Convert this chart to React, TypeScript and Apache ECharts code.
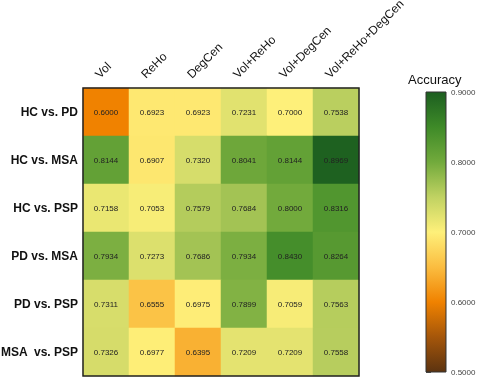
import React, { useEffect, useRef } from "react";
import * as echarts from "echarts";

const methods = ["Vol", "ReHo", "DegCen", "Vol+ReHo", "Vol+DegCen", "Vol+ReHo+DegCen"];
const comparisons = ["HC vs. PD", "HC vs. MSA", "HC vs. PSP", "PD vs. MSA", "PD vs. PSP", "MSA  vs. PSP"];
const hcVsPd = [0.6, 0.6923, 0.6923, 0.7231, 0.7, 0.7538];
const hcVsMsa = [0.8144, 0.6907, 0.732, 0.8041, 0.8144, 0.8969];
const hcVsPsp = [0.7158, 0.7053, 0.7579, 0.7684, 0.8, 0.8316];
const pdVsMsa = [0.7934, 0.7273, 0.7686, 0.7934, 0.843, 0.8264];
const pdVsPsp = [0.7311, 0.6555, 0.6975, 0.7899, 0.7059, 0.7563];
const msaVsPsp = [0.7326, 0.6977, 0.6395, 0.7209, 0.7209, 0.7558];
const rows = [hcVsPd, hcVsMsa, hcVsPsp, pdVsMsa, pdVsPsp, msaVsPsp];
const scaleMin = 0.5;
const scaleMax = 0.9;
const scaleStep = 0.1;
const palette = ["#5c3310", "#a5560a", "#f08200", "#fbbd40", "#fef07a", "#c0d262", "#72aa3c", "#3e8a28", "#1c5e20"];

export default function App() {
  const ref = useRef<HTMLDivElement>(null);
  useEffect(() => {
    if (!ref.current) return;
    const chart = echarts.init(ref.current, null, { renderer: "svg" });
    const data: [number, number, number][] = [];
    rows.forEach((r, yi) => r.forEach((v, xi) => data.push([xi, yi, v])));
    const stops = palette
      .map((c, i) => ({ offset: 1 - i / (palette.length - 1), color: c }))
      .reverse();
    chart.setOption({
      animation: false,
      textStyle: { fontFamily: "Liberation Sans, Arial, sans-serif" },
      title: {
        text: "Accuracy",
        left: 403,
        top: 68,
        textStyle: { fontSize: 13, fontWeight: "normal", color: "#111", fontFamily: "Liberation Sans, Arial, sans-serif" },
      },
      grid: [
        { left: 83, top: 88, width: 276, height: 288, show: true, borderColor: "#222", borderWidth: 1.5, backgroundColor: "transparent", z: 5, outerBoundsMode: "none", containLabel: false },
        { left: 426, top: 92, width: 20, height: 280, show: false, outerBoundsMode: "none", containLabel: false },
      ],
      xAxis: [
        {
          type: "category",
          data: methods,
          position: "top",
          gridIndex: 0,
          axisLine: { show: false },
          axisTick: { show: false },
          axisLabel: { rotate: -45, fontSize: 12, color: "#111", margin: 3, verticalAlign: "bottom", lineHeight: 25 },
        },
        { type: "value", gridIndex: 1, show: false },
      ],
      yAxis: [
        {
          type: "category",
          data: comparisons,
          inverse: true,
          gridIndex: 0,
          axisLine: { show: false },
          axisTick: { show: false },
          axisLabel: { fontSize: 12, fontWeight: "bold", color: "#111", margin: 5 },
        },
        {
          type: "value",
          gridIndex: 1,
          min: scaleMin,
          max: scaleMax,
          interval: scaleStep,
          position: "right",
          axisLine: { show: false },
          splitLine: { show: false },
          axisTick: { show: true, length: 5, lineStyle: { color: "#555" } },
          axisLabel: { fontSize: 8, color: "#444", margin: 5, formatter: (v: number) => v.toFixed(4) },
        },
      ],
      visualMap: {
        show: false,
        type: "continuous",
        min: scaleMin,
        max: scaleMax,
        seriesIndex: 0,
        inRange: { color: palette },
      },
      graphic: [
        {
          type: "rect",
          shape: { x: 426, y: 92, width: 20, height: 280 },
          style: {
            fill: new echarts.graphic.LinearGradient(0, 0, 0, 1, stops),
            stroke: "#333",
            lineWidth: 1,
          },
          z: 10,
        },
      ],
      series: [
        {
          type: "heatmap",
          xAxisIndex: 0,
          yAxisIndex: 0,
          data,
          label: {
            show: true,
            fontSize: 8,
            color: "#222",
            formatter: (p: any) => (p.value[2] as number).toFixed(4),
          },
          itemStyle: { borderWidth: 0 },
        },
      ],
    });
    return () => chart.dispose();
  }, []);
  return <div ref={ref} style={{ position: "fixed", left: 0, top: 0, width: 480, height: 377 }} />;
}
